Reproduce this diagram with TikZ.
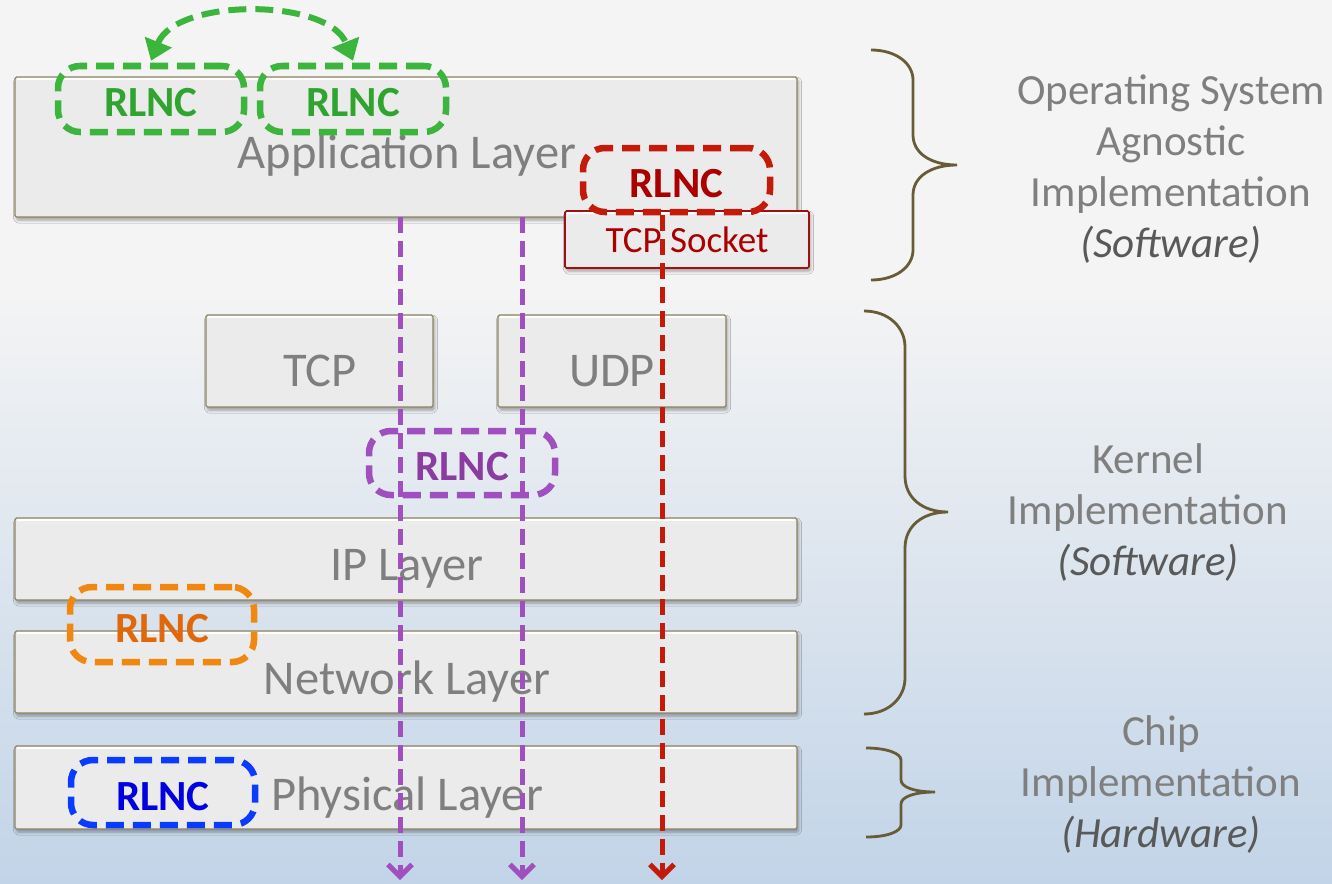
\documentclass[tikz,border=0pt]{standalone}
\usepackage{fontspec}
\setmainfont{Carlito}
\usetikzlibrary{arrows.meta,shadows.blur}

\definecolor{bgtop}{HTML}{F4F4F4}
\definecolor{bgbot}{HTML}{C2D4E8}
\definecolor{layerfill}{HTML}{EBEBEB}
\definecolor{layeredge}{HTML}{8F8360}
\definecolor{labelgray}{HTML}{7F7F7F}
\definecolor{notegray}{HTML}{595959}
\definecolor{braceol}{HTML}{675B38}
\definecolor{rlncgreen}{HTML}{3BB53B}
\definecolor{txtgreen}{HTML}{2FA52F}
\definecolor{rlncred}{HTML}{C41A0A}
\definecolor{txtred}{HTML}{AA0000}
\definecolor{sockred}{HTML}{A01010}
\definecolor{rlncpurple}{HTML}{A050BE}
\definecolor{txtpurple}{HTML}{8A3CA0}
\definecolor{rlncorange}{HTML}{F0870F}
\definecolor{txtorange}{HTML}{E0680A}
\definecolor{rlncblue}{HTML}{0A3CFF}
\definecolor{txtblue}{HTML}{0000E0}

% right-hand curly brace: x0 (ends), xv (spine), xt (tip), ytop, ymid, ybot, r (curl)
\newcommand\sidebrace[7]{%
  \draw[bracestyle]
    (#1,#4) .. controls ({#1+0.6*(#2-#1)},#4) and (#2,{#4+0.45*#7}) .. (#2,{#4+#7})
    -- (#2,{#5-#7}) .. controls (#2,{#5-0.4*#7}) and ({#2+0.4*(#3-#2)},#5) .. (#3,#5)
    .. controls ({#2+0.4*(#3-#2)},#5) and (#2,{#5+0.4*#7}) .. (#2,{#5+#7})
    -- (#2,{#6-#7}) .. controls (#2,{#6-0.45*#7}) and ({#1+0.6*(#2-#1)},#6) .. (#1,#6);}

\begin{document}
\begin{tikzpicture}[x=1pt,y=-1pt,
  layer/.style={draw=layeredge, line width=1.3pt, fill=layerfill,
    rounded corners=1.5pt, inner sep=0pt,
    blur shadow={shadow xshift=1.5pt, shadow yshift=-3pt,
      shadow blur radius=3pt, shadow opacity=35}},
  layertext/.style={text=labelgray, font=\fontsize{48.5}{58}\selectfont,
    anchor=base, inner sep=0pt},
  rlncbox/.style={line width=6.5pt, dash pattern=on 18pt off 9pt,
    rounded corners=22pt, inner sep=0pt, minimum width=186pt,
    minimum height=66pt, text height=35pt, text depth=0pt,
    font=\bfseries\fontsize{43}{50}\selectfont},
  flow/.style={line width=5pt, dash pattern=on 16pt off 8pt,
    -{Straight Barb[length=12pt,width=24pt,line width=5pt]}},
  bracestyle/.style={draw=braceol, line width=2.8pt},
  sidenote/.style={text=labelgray, align=center, anchor=base,
    inner sep=0pt, font=\fontsize{43}{51}\selectfont}]

% background
\fill[bgtop] (0,0) rectangle (1332,290);
\shade[top color=bgtop, bottom color=bgbot] (0,289) rectangle (1332,883);
\useasboundingbox (0,0) rectangle (1332,883);

% protocol layers
\node[layer, minimum width=782pt, minimum height=140pt] (app) at (406,147) {};
\node[layer, minimum width=227pt, minimum height=92pt] (tcp) at (319.5,361) {};
\node[layer, minimum width=228pt, minimum height=92pt] (udp) at (612,361) {};
\node[layer, minimum width=782pt, minimum height=82pt] (ip) at (406,559) {};
\node[layer, minimum width=782pt, minimum height=82pt] (net) at (406,672) {};
\node[layer, minimum width=782pt, minimum height=83pt] (phy) at (406,787.5) {};
\foreach \n in {app,tcp,udp,ip,net,phy}{
  \draw[white, line width=1.8pt]
    ([xshift=3pt,yshift=-3pt]\n.north west) -- ([xshift=-3pt,yshift=-3pt]\n.north east);}

\node[layertext] (apptxt) at (407,168) {Application Layer};
\node[layertext] (tcptxt) at (320,386) {TCP};
\node[layertext] (udptxt) at (612,386) {UDP};
\node[layertext] (iptxt) at (407,580) {IP Layer};
\node[layertext] (nettxt) at (407,694) {Network Layer};
\node[layertext] (phytxt) at (407,810) {Physical Layer};

% socket
\node[draw=sockred, line width=1.6pt, fill=layerfill, rounded corners=1.5pt,
  minimum width=244pt, minimum height=57pt, inner sep=0pt, text=txtred,
  font=\fontsize{37}{44}\selectfont,
  blur shadow={shadow xshift=1.5pt, shadow yshift=-3pt, shadow blur radius=3pt, shadow opacity=35}]
  (sock) at (687,239.5) {TCP Socket};
\draw[white, line width=1.5pt]
  ([xshift=3pt,yshift=-3pt]sock.north west) -- ([xshift=-3pt,yshift=-3pt]sock.north east);

% coding blocks
\node[rlncbox, draw=rlncgreen, text=txtgreen] (gl) at (151,99) {RLNC};
\node[rlncbox, draw=rlncgreen, text=txtgreen] (gr) at (353,99) {RLNC};
\node[rlncbox, draw=rlncred, text=txtred, minimum width=187pt, minimum height=64pt] (rr) at (676.5,180) {RLNC};
\node[rlncbox, draw=rlncpurple, text=txtpurple, minimum height=64pt] (pp) at (462,463) {RLNC};
\node[rlncbox, draw=rlncorange, text=txtorange, minimum width=184pt, minimum height=75pt] (oo) at (162,624.5) {RLNC};
\node[rlncbox, draw=rlncblue, text=txtblue, minimum width=184pt, minimum height=65pt] (bb) at (163,792.5) {RLNC};

% exchange between the two application-level coders
\draw[draw=rlncgreen, line width=6pt, dash pattern=on 18pt off 9pt,
  {Triangle[length=20pt,width=28pt]}-{Triangle[length=20pt,width=28pt]}]
  ([yshift=2pt]gl.north) .. controls +(25,-63) and +(-25,-63) .. ([yshift=2pt]gr.north);

% data paths
\coordinate (p1s) at (400,217);
\coordinate (p1e) at (400,880);
\coordinate (p2s) at (522,217);
\coordinate (p2e) at (522,880);
\coordinate (r1s) at (662,215);
\coordinate (r1e) at (662,880);
\draw[flow, rlncpurple] (p1s) -- (p1e);
\draw[flow, rlncpurple] (p2s) -- (p2e);
\draw[flow, rlncred] (r1s) -- (r1e);

% scope braces
\sidebrace{871}{913}{957}{50}{165}{280}{30}
\sidebrace{864}{905}{948}{311}{512}{714}{36}
\sidebrace{866}{901}{935}{748}{792}{837}{12}

% the base anchor of a multi-line node sits on its last line
\node[sidenote] (osnote) at (1171,257)
  {Operating System\\Agnostic\\Implementation\\{\color{notegray}\itshape (Software)}};
\node[sidenote] (knote) at (1148,575)
  {Kernel\\Implementation\\{\color{notegray}\itshape (Software)}};
\node[sidenote] (cnote) at (1161,847)
  {Chip\\Implementation\\{\color{notegray}\itshape (Hardware)}};
\end{tikzpicture}
\end{document}
